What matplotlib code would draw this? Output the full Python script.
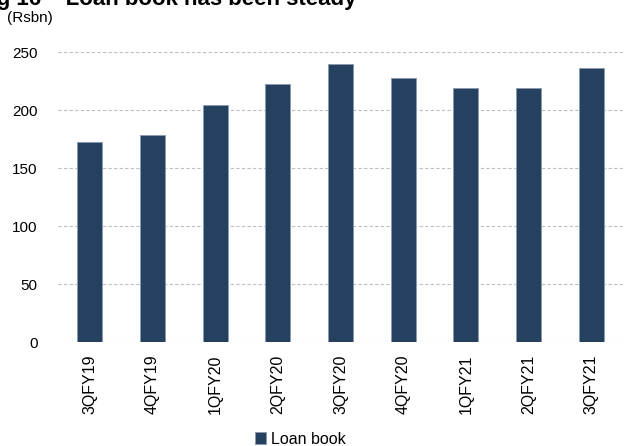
import matplotlib
matplotlib.use("Agg")
import matplotlib.pyplot as plt
from matplotlib import font_manager

categories = ["3QFY19", "4QFY19", "1QFY20", "2QFY20", "3QFY20", "4QFY20", "1QFY21", "2QFY21", "3QFY21"]
loan_book = [172.4, 179.0, 204.3, 222.9, 239.7, 228.1, 219.2, 219.2, 236.7]
yticks = [0, 50, 100, 150, 200, 250]

names = {f.name for f in font_manager.fontManager.ttflist}
fam = ["Liberation Sans Narrow", "Liberation Sans", "DejaVu Sans"]
fam = [f for f in fam if f in names] or ["DejaVu Sans"]
plt.rcParams["font.family"] = fam

W, H = 628, 446
fig = plt.figure(figsize=(W / 100, H / 100), dpi=100)
ax = fig.add_axes([58.5 / W, 1 - 342.3 / H, (622.5 - 58.5) / W, 290 / H])

x = list(range(len(categories)))
ax.bar(x, loan_book, width=0.404, color="#264060", edgecolor="#8a9ab0", linewidth=0.7,
       label="Loan book", zorder=3)

ax.set_xlim(-0.5, len(categories) - 0.5)
ax.set_ylim(0, 250)
ax.set_yticks(yticks)
ax.set_xticks(x)
ax.set_xticklabels(categories, rotation=90, fontsize=11.5)
ax.tick_params(axis="y", length=0, pad=15, labelsize=11)
ax.tick_params(axis="x", length=0, pad=9)
for s in ax.spines.values():
    s.set_visible(False)
ax.yaxis.grid(True, color="#bfbfbf", linestyle=(0, (3, 2)), linewidth=0.8, zorder=0)
ax.set_axisbelow(True)
for lbl in ax.get_xticklabels():
    lbl.set_verticalalignment("top")

fig.text(-23 / W, 1 - 5 / H, "Fig 16 \u2013 Loan book has been steady", fontsize=16,
         fontweight="bold", ha="left", va="baseline", color="#000000")
fig.text(7 / W, 1 - 18 / H, "(Rsbn)", fontsize=11, ha="left", va="center")

fig.legend(loc="center", bbox_to_anchor=(300.5 / W, 1 - 439 / H), frameon=False,
           fontsize=11.5, handlelength=0.7, handleheight=0.7, handletextpad=0.3)

fig.savefig("out.png", dpi=100)
